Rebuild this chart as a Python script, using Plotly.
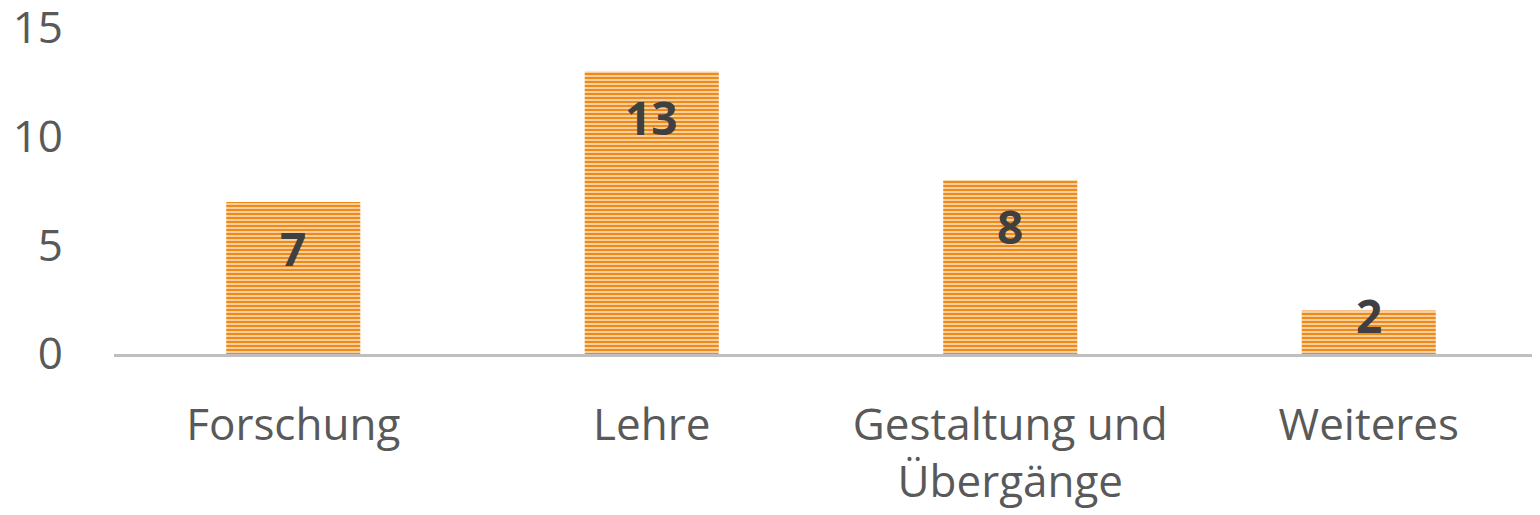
import plotly.graph_objects as go

categories = ["Forschung", "Lehre", "Gestaltung und<br>Übergänge", "Weiteres"]
values = [7, 13, 8, 2]
y_tick_values = [0, 5, 10, 15]
y_tick_labels = ["0", "5", "10", "15"]

# styling (not data)
label_shift = [-46, -46, -46, -4]

fig = go.Figure()
fig.add_trace(go.Bar(
    x=categories,
    y=values,
    marker=dict(
        color="#ED8B1C",
        line=dict(width=0),
        pattern=dict(shape="-", fgcolor="#EE8A1A", bgcolor="#FAD6AA",
                     size=4, solidity=0.55, fillmode="replace"),
    ),
    hoverinfo="skip",
))

for c, v, s in zip(categories, values, label_shift):
    fig.add_annotation(
        x=c, y=v, yshift=s, text=str(v), showarrow=False,
        xanchor="center", yanchor="middle",
        font=dict(family="Open Sans", size=46, color="#404040", weight="bold"),
    )

# the page body has an 8px margin, compensated in the plot margins
fig.update_layout(
    width=1540, height=515,
    margin=dict(l=106, r=0, t=20, b=169, autoexpand=False),
    paper_bgcolor="white", plot_bgcolor="white",
    bargap=0.626,
    showlegend=False,
    font=dict(family="Open Sans", color="#595959"),
)
fig.update_xaxes(
    range=[-0.5, 3.5],
    showline=True, linecolor="#BFBFBF", linewidth=3,
    showgrid=False, zeroline=False, ticks="",
    tickfont=dict(size=44, color="#595959"),
    ticklabelstandoff=30,
    automargin=False,
)
fig.update_yaxes(
    range=[0, 15.001],
    tickvals=y_tick_values, ticktext=y_tick_labels,
    showgrid=False, zeroline=False, showline=False, ticks="",
    tickfont=dict(size=44, color="#595959"),
    ticklabelstandoff=50,
    ticklabeloverflow="allow",
    automargin=False,
)

fig.write_html("out.html")
